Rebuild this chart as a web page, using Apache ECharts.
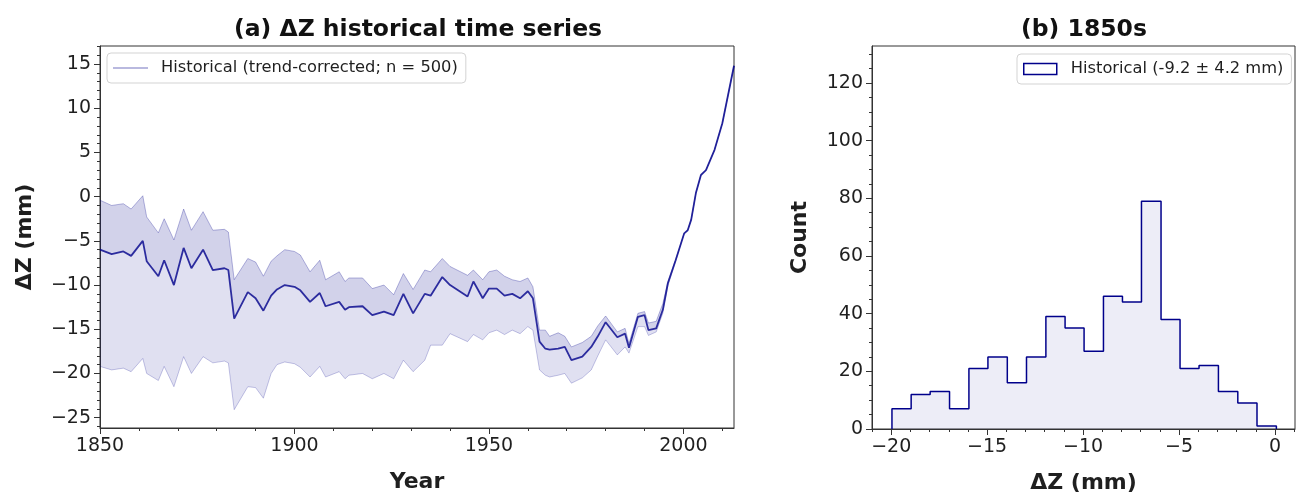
<!DOCTYPE html>
<html lang="en">
<head>
  <meta charset="UTF-8">
  <title>ΔZ historical time series</title>
  <script src="https://cdn.jsdelivr.net/npm/echarts@6/dist/echarts.min.js"></script>
</head>
<body style="margin: 0;padding: 0;">
  <div id="main" style="width: 1296px;height: 494px;"></div>
  <script>
    // (a) ensemble: upper edge, dense middle strand, lower edge
    var years = [1850, 1853, 1856, 1858, 1861, 1862, 1865, 1866.5, 1869, 1871.5, 1873.5, 1876.5, 1879, 1882, 1883,
      1884.5, 1888, 1890, 1892, 1894, 1895.5, 1897.5, 1900, 1901.5, 1904, 1906.5, 1908, 1911.5, 1913, 1914, 1917.5,
      1920, 1923, 1925.5, 1928, 1930.5, 1933.5, 1935, 1938, 1940, 1944.5, 1946, 1948.4, 1950, 1952, 1954, 1956, 1958,
      1960, 1961.3, 1963, 1964.5, 1965.6, 1967.8, 1969.5, 1971.2, 1974, 1976.3, 1978, 1980, 1983, 1985, 1986, 1988.3,
      1990, 1991, 1993, 1994.7, 1996, 1998, 2000.2, 2001.1, 2002, 2003.2, 2004.5, 2005.8, 2008, 2010, 2013];
    var upper = [-0.4, -1.0, -0.8, -1.4, 0.1, -2.3, -4.1, -2.5, -4.9, -1.4, -3.8, -1.7, -3.8, -3.7, -4.0,
      -9.4, -7.0, -7.4, -9.0, -7.3, -6.7, -6.0, -6.2, -6.6, -8.5, -7.2, -9.4, -8.5, -9.6, -9.2, -9.2,
      -10.4, -10.0, -11.1, -8.7, -10.5, -8.3, -8.5, -7.0, -7.9, -8.9, -8.3, -9.4, -8.5, -8.3, -9.0, -9.4, -9.6,
      -9.2, -10.2, -15.1, -15.1, -15.8, -15.4, -15.8, -17.0, -16.5, -15.8, -14.6, -13.5, -15.3, -14.9, -16.6, -13.2,
      -13.0, -14.3, -14.1, -12.1, -9.6, -7.1, -4.15, -3.8, -2.6, 0.4, 2.45, 3.0, 5.3, 8.3, 14.8];
    var center = [-6.0, -6.5, -6.2, -6.7, -5.0, -7.3, -9.0, -7.2, -10.0, -5.8, -8.1, -6.0, -8.3, -8.1, -8.3,
      -13.8, -10.8, -11.5, -12.9, -11.2, -10.5, -10.0, -10.2, -10.6, -11.9, -10.9, -12.4, -11.9, -12.8, -12.5, -12.4,
      -13.4, -13.0, -13.4, -11.0, -13.2, -11.0, -11.2, -9.1, -10.0, -11.3, -9.6, -11.5, -10.4, -10.4, -11.2, -11.0, -11.5,
      -10.7, -11.5, -16.4, -17.2, -17.3, -17.2, -17.0, -18.5, -18.1, -17.0, -15.8, -14.2, -15.9, -15.5, -17.1, -13.6,
      -13.4, -15.1, -14.9, -12.8, -9.8, -7.2, -4.15, -3.8, -2.6, 0.4, 2.45, 3.0, 5.3, 8.3, 14.8];
    var lower = [-19.2, -19.6, -19.4, -19.8, -18.3, -20.0, -20.8, -19.2, -21.5, -18.1, -20.0, -18.1, -18.8, -18.6, -18.8,
      -24.1, -21.5, -21.6, -22.8, -20.0, -19.0, -18.7, -18.9, -19.3, -20.4, -19.2, -20.4, -19.8, -20.6, -20.2, -20.0,
      -20.6, -20.0, -20.6, -18.5, -19.8, -18.5, -16.8, -16.8, -15.5, -16.4, -15.6, -16.2, -15.4, -15.1, -15.6, -15.1, -15.5,
      -14.7, -15.1, -19.6, -20.2, -20.4, -20.2, -20.0, -21.1, -20.5, -19.6, -18.0, -16.2, -17.9, -17.0, -17.7, -14.7,
      -14.7, -15.7, -15.3, -13.2, -10.1, -7.3, -4.15, -3.8, -2.6, 0.4, 2.45, 3.0, 5.3, 8.3, 14.8];

    // (b) histogram of the 1850s mean
    var binEdges = [-19.96, -18.96, -17.97, -16.96, -15.95, -14.96, -13.95, -12.95, -11.94, -10.94, -9.95,
      -8.94, -7.95, -6.96, -5.94, -4.95, -3.96, -2.95, -1.94, -0.94, 0.07];
    var binCounts = [7, 12, 13, 7, 21, 25, 16, 25, 39, 35, 27, 46, 44, 79, 38, 21, 22, 13, 9, 1];

    var yearTicks = [1850, 1900, 1950, 2000];
    var dzTicks = [-25, -20, -15, -10, -5, 0, 5, 10, 15];
    var histXTicks = [-20, -15, -10, -5, 0];
    var countTicks = [0, 20, 40, 60, 80, 100, 120];

    var nameA = 'Historical (trend-corrected; n = 500)';
    var nameB = 'Historical (-9.2 \u00b1 4.2 mm)';

    function range(a, b, step) {
      var out = [];
      for (var v = a; v <= b + 1e-9; v += step) out.push(v);
      return out;
    }
    function pairs(xs, ys) {
      return xs.map(function (x, i) { return [x, ys[i]]; });
    }
    function minus(v) {
      return String(v).replace('-', '\u2212');
    }

    var histData = [[binEdges[0], 0]];
    binCounts.forEach(function (c, i) { histData.push([binEdges[i], c]); });
    histData.push([binEdges[binEdges.length - 1], binCounts[binCounts.length - 1]]);
    histData.push([binEdges[binEdges.length - 1], 0]);

    var navy = '#00008b';
    var font = 'DejaVu Sans';
    var ink = '#1f1f1f';
    var frame = '#333';

    function mainAxis(grid, min, max, ticks, extra) {
      var ax = {
        gridIndex: grid, type: 'value', min: min, max: max, scale: true,
        axisLine: { show: true, onZero: false, lineStyle: { color: frame, width: 1 } },
        axisTick: { show: true, customValues: ticks, length: 6, lineStyle: { color: frame } },
        axisLabel: { customValues: ticks, formatter: minus, fontFamily: font, fontSize: 19, color: ink, margin: 9 },
        splitLine: { show: false },
        nameLocation: 'middle',
        nameTextStyle: { fontFamily: font, fontSize: 22, fontWeight: 'bold', color: ink }
      };
      return Object.assign(ax, extra);
    }
    function minorAxis(grid, min, max, ticks, pos) {
      return {
        gridIndex: grid, type: 'value', min: min, max: max, position: pos,
        axisLine: { show: false, onZero: false },
        axisTick: { show: true, customValues: ticks, length: 3, lineStyle: { color: frame } },
        axisLabel: { show: false },
        splitLine: { show: false }
      };
    }
    // filled region between two read curves of the ensemble
    function bandSeries(top, bottom, fill) {
      return {
        type: 'custom', xAxisIndex: 0, yAxisIndex: 0, silent: true, z: 1,
        data: [0],
        renderItem: function (params, api) {
          var pts = [];
          for (var i = 0; i < years.length; i++) pts.push(api.coord([years[i], top[i]]));
          for (var j = years.length - 1; j >= 0; j--) pts.push(api.coord([years[j], bottom[j]]));
          return { type: 'polygon', shape: { points: pts }, style: { fill: fill } };
        }
      };
    }

    var myChart = echarts.init(document.getElementById('main'));
    var option = {
      backgroundColor: '#fff',
      animation: false,
      title: [
        { text: '(a) \u0394Z historical time series', left: 413, top: 13, textAlign: 'center',
          textStyle: { fontFamily: font, fontSize: 23.5, fontWeight: 'bold', color: '#111' } },
        { text: '(b) 1850s', left: 1079, top: 13, textAlign: 'center',
          textStyle: { fontFamily: font, fontSize: 23.5, fontWeight: 'bold', color: '#111' } }
      ],
      grid: [
        { left: 100, top: 46, width: 634, height: 382, show: true, borderColor: frame, borderWidth: 1,
          backgroundColor: 'transparent', outerBoundsMode: 'none' },
        { left: 872, top: 46, width: 423, height: 383, show: true, borderColor: frame, borderWidth: 1,
          backgroundColor: 'transparent', outerBoundsMode: 'none' }
      ],
      legend: [
        {
          data: [{ name: nameA, icon: 'rect', itemStyle: { color: 'rgba(0,0,139,0.55)' } }],
          left: 107, top: 53, orient: 'horizontal', selectedMode: false,
          itemWidth: 35, itemHeight: 1.2, padding: [7, 8, 7, 6],
          backgroundColor: '#fff', borderColor: '#d3d3d3', borderWidth: 1, borderRadius: 4,
          textStyle: { fontFamily: font, fontSize: 16.3, color: ink, padding: [0, 0, 0, 8] }
        },
        {
          data: [{ name: nameB, icon: 'rect', itemStyle: { color: '#fff', borderColor: navy, borderWidth: 1.5 } }],
          left: 1017, top: 54, orient: 'horizontal', selectedMode: false,
          itemWidth: 33, itemHeight: 11, padding: [7, 8, 7, 6],
          backgroundColor: '#fff', borderColor: '#d3d3d3', borderWidth: 1, borderRadius: 4,
          textStyle: { fontFamily: font, fontSize: 16.3, color: ink, padding: [0, 0, 0, 9] }
        }
      ],
      xAxis: [
        mainAxis(0, 1850, 2013, yearTicks, { name: 'Year', nameGap: 43, position: 'bottom' }),
        minorAxis(0, 1850, 2013, range(1850, 2010, 10), 'bottom'),
        mainAxis(1, -21.0, 1.04, histXTicks, { name: '\u0394Z (mm)', nameGap: 43, position: 'bottom' }),
        minorAxis(1, -21.0, 1.04, range(-21, 1, 1), 'bottom')
      ],
      yAxis: [
        mainAxis(0, -26.17, 17.04, dzTicks, { name: '\u0394Z (mm)', nameGap: 64, position: 'left' }),
        minorAxis(0, -26.17, 17.04, range(-26, 17, 1), 'left'),
        mainAxis(1, 0, 132.8, countTicks, { name: 'Count', nameGap: 61, position: 'left' }),
        minorAxis(1, 0, 132.8, range(0, 130, 5), 'left')
      ],
      series: [
        bandSeries(upper, lower, 'rgba(0,0,139,0.12)'),
        bandSeries(upper, center, 'rgba(0,0,139,0.06)'),
        {
          type: 'line', xAxisIndex: 0, yAxisIndex: 0, data: pairs(years, upper), symbol: 'none', silent: true,
          lineStyle: { color: 'rgba(0,0,139,0.28)', width: 1 }
        },
        {
          type: 'line', xAxisIndex: 0, yAxisIndex: 0, data: pairs(years, lower), symbol: 'none', silent: true,
          lineStyle: { color: 'rgba(0,0,139,0.22)', width: 1 }
        },
        {
          name: nameA, type: 'line', xAxisIndex: 0, yAxisIndex: 0, data: pairs(years, center), symbol: 'none',
          lineStyle: { color: 'rgba(0,0,139,0.8)', width: 1.8 }, itemStyle: { color: navy }
        },
        {
          name: nameB, type: 'line', xAxisIndex: 2, yAxisIndex: 2, data: histData, step: 'end', symbol: 'none',
          lineStyle: { color: navy, width: 1.5 }, itemStyle: { color: navy },
          areaStyle: { color: 'rgba(0,0,139,0.1)', origin: 0 }
        }
      ]
    };

    option && myChart.setOption(option);
  </script>
</body>
</html>
